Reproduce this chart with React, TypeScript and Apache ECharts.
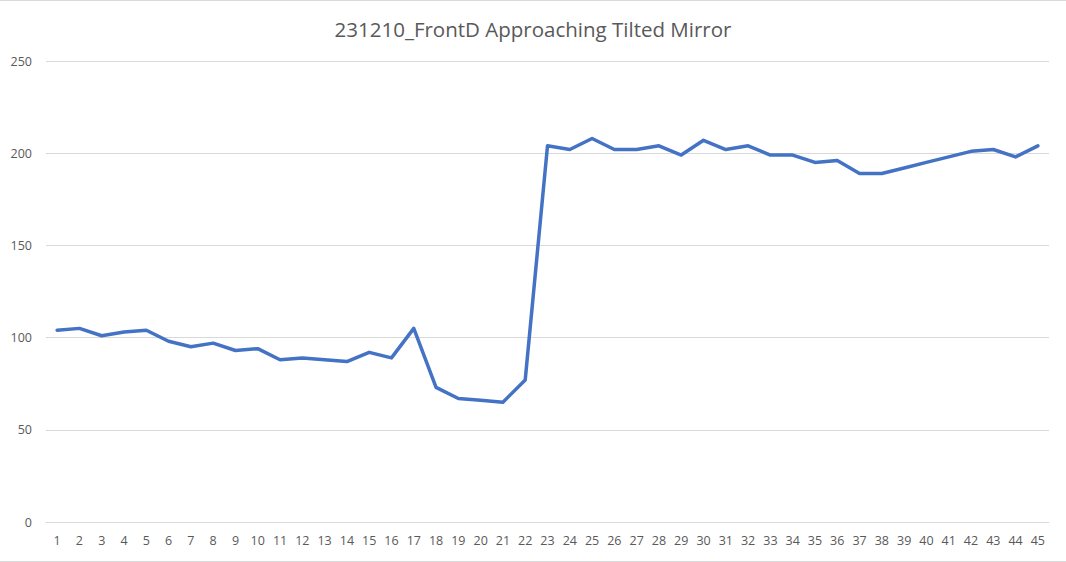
import React, { useEffect, useRef } from "react";
import * as echarts from "echarts";

const categories: string[] = Array.from({ length: 45 }, (_, i) => String(i + 1));
const values: number[] = [
  104, 105, 101, 103, 104, 98, 95, 97, 93, 94,
  88, 89, 88, 87, 92, 89, 105, 73, 67, 66,
  65, 77, 204, 202, 208, 202, 202, 204, 199, 207,
  202, 204, 199, 199, 195, 196, 189, 189, 192, 195,
  198, 201, 202, 198, 204,
];
const title = "231210_FrontD Approaching Tilted Mirror";

export default function App() {
  const ref = useRef<HTMLDivElement>(null);
  useEffect(() => {
    document.body.style.margin = "0";
    const chart = echarts.init(ref.current!, null, { renderer: "svg" });
    chart.setOption({
      animation: false,
      backgroundColor: "#ffffff",
      title: {
        text: title,
        left: "center",
        top: 13,
        textStyle: { fontFamily: "Open Sans", fontSize: 20.5, fontWeight: "normal", color: "#595959" },
      },
      grid: { left: 46, right: 17, top: 61, bottom: 40, containLabel: false },
      xAxis: {
        type: "category",
        data: categories,
        boundaryGap: true,
        axisLine: { show: true, lineStyle: { color: "#d9d9d9", width: 1 } },
        axisTick: { show: false },
        axisLabel: { color: "#595959", fontFamily: "Open Sans", fontSize: 12.5, margin: 12, interval: 0 },
      },
      yAxis: {
        type: "value",
        min: 0,
        max: 250,
        interval: 50,
        axisLine: { show: false },
        axisTick: { show: false },
        splitLine: { lineStyle: { color: "#d9d9d9", width: 1 } },
        axisLabel: { color: "#595959", fontFamily: "Open Sans", fontSize: 12.5, margin: 14 },
      },
      series: [
        {
          type: "line",
          data: values,
          showSymbol: false,
          symbol: "none",
          lineStyle: { color: "#4472C4", width: 3.5, join: "round", cap: "round" },
          itemStyle: { color: "#4472C4" },
        },
      ],
      graphic: [
        { type: "line", shape: { x1: 0, y1: 0.5, x2: 1066, y2: 0.5 }, style: { stroke: "#d9d9d9", lineWidth: 1 } },
        { type: "line", shape: { x1: 0, y1: 561.5, x2: 1066, y2: 561.5 }, style: { stroke: "#d9d9d9", lineWidth: 1 } },
      ],
    });
    return () => chart.dispose();
  }, []);
  return <div ref={ref} style={{ width: 1066, height: 562 }} />;
}
